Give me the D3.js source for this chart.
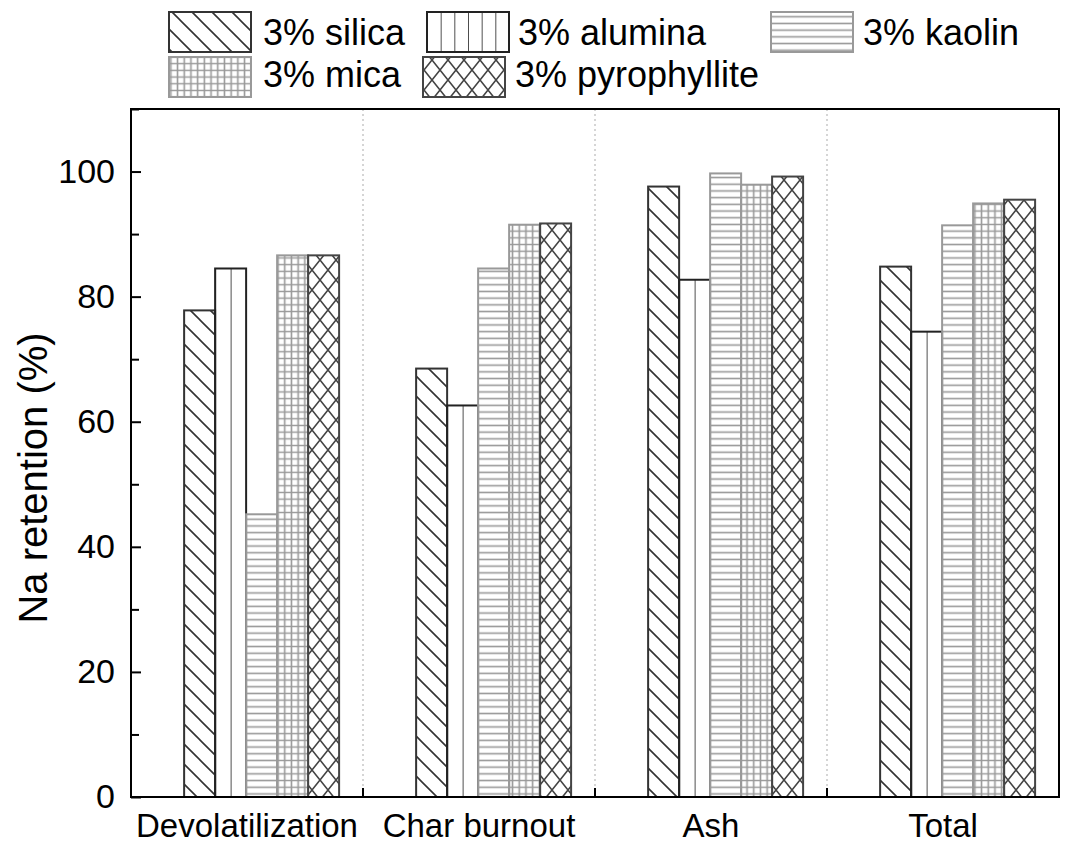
<!DOCTYPE html>
<html>
<head>
<meta charset="utf-8">
<script src="https://cdn.jsdelivr.net/npm/d3@7"></script>
<style>
  html, body { margin: 0; padding: 0; background: #fff; }
  svg { display: block; font-family: Arial, "Liberation Sans", sans-serif; }
</style>
</head>
<body>
<svg id="chart" width="1065" height="854"></svg>
<script>
const categories = ["Devolatilization", "Char burnout", "Ash", "Total"];
const seriesNames = ["3% silica", "3% alumina", "3% kaolin", "3% mica", "3% pyrophyllite"];
const silica = [77.8, 68.5, 97.6, 84.8];
const alumina = [84.5, 62.6, 82.7, 74.4];
const kaolin = [45.2, 84.5, 99.7, 91.4];
const mica = [86.6, 91.5, 97.9, 94.9];
const pyrophyllite = [86.6, 91.7, 99.2, 95.5];
const yTicks = [0, 20, 40, 60, 80, 100];
const yMinorTicks = [10, 30, 50, 70, 90, 110];

const seriesValues = [silica, alumina, kaolin, mica, pyrophyllite];
const seriesKeys = ["silica", "alumina", "kaolin", "mica", "pyro"];
const strokeColors = {silica: "#333", alumina: "#222", kaolin: "#999", mica: "#999", pyro: "#444"};

const svg = d3.select("#chart");
const L = 131, R = 1059, T = 109, B = 797;

const x = d3.scaleBand().domain(categories).range([L, R]).padding(0);
const bw = x.bandwidth();
const xs = d3.scaleBand().domain(seriesKeys).range([bw * 0.229, bw * 0.897]).padding(0);
const y = d3.scaleLinear().domain([0, 110]).range([B, T]);

// patterns
const defs = svg.append("defs");
function pat(id, w, h, d, color, sw) {
  const p = defs.append("pattern").attr("id", id)
    .attr("patternUnits", "userSpaceOnUse")
    .attr("width", w).attr("height", h);
  p.append("path").attr("d", d).attr("stroke", color).attr("stroke-width", sw).attr("fill", "none");
  return p;
}
pat("p-silica", 20, 20, "M0,0 L20,20 M-5,15 L5,25 M15,-5 L25,5", "#333", 1.6);
pat("p-kaolin", 10, 6.7, "M0,3.35 H10", "#999", 1.6);
pat("p-mica", 6.7, 6.7, "M0,3.35 H6.7 M3.35,0 V6.7", "#999", 1.6);
pat("p-pyro", 16, 20, "M0,0 L16,20 M16,0 L0,20 M-8,10 L0,20 M8,-10 L16,0", "#444", 1.6);
// alumina: vertical lines, bar-relative
defs.append("pattern").attr("id", "p-alumina").attr("patternUnits", "objectBoundingBox")
  .attr("x", 0).attr("y", 0).attr("width", 0.5).attr("height", 1)
  .append("path").attr("d", "M0,0 V2000").attr("stroke", "#222").attr("stroke-width", 1.6);
defs.append("pattern").attr("id", "p-alumina-leg").attr("patternUnits", "objectBoundingBox")
  .attr("x", 0).attr("y", 0).attr("width", 1 / 6).attr("height", 1)
  .append("path").attr("d", "M0,0 V200").attr("stroke", "#222").attr("stroke-width", 1.6);

// separators (dotted)
const seps = categories.slice(1).map(c => x(c));
svg.append("g").selectAll("line").data(seps).join("line")
  .attr("x1", d => d).attr("x2", d => d).attr("y1", T).attr("y2", B)
  .attr("stroke", "#c8c8c8").attr("stroke-width", 1.5).attr("stroke-dasharray", "2,3");

// bars
const barData = [];
categories.forEach((c, ci) => {
  seriesKeys.forEach((k, si) => {
    barData.push({cat: c, key: k, value: seriesValues[si][ci]});
  });
});
svg.append("g").selectAll("rect").data(barData).join("rect")
  .attr("x", d => x(d.cat) + xs(d.key))
  .attr("width", xs.bandwidth())
  .attr("y", d => y(d.value))
  .attr("height", d => y(0) - y(d.value))
  .attr("fill", d => `url(#p-${d.key})`)
  .attr("stroke", d => strokeColors[d.key])
  .attr("stroke-width", 2);

// separator ticks at bottom
svg.append("g").selectAll("line").data(seps).join("line")
  .attr("x1", d => d).attr("x2", d => d).attr("y1", B).attr("y2", B - 9)
  .attr("stroke", "#000").attr("stroke-width", 2);

// y axis
const yAxis = d3.axisLeft(y).tickValues(yTicks).tickSize(-10).tickPadding(16).tickFormat(d3.format("d"));
const gy = svg.append("g").attr("transform", `translate(${L},0)`).call(yAxis);
gy.select(".domain").remove();
gy.selectAll(".tick line").attr("stroke", "#000").attr("stroke-width", 2);
gy.selectAll(".tick text").attr("font-size", 34).attr("fill", "#000")
  .attr("font-family", "Arial, 'Liberation Sans', sans-serif");

const yMinor = d3.axisLeft(y).tickValues(yMinorTicks).tickSize(-8).tickFormat("");
const gym = svg.append("g").attr("transform", `translate(${L},0)`).call(yMinor);
gym.select(".domain").remove();
gym.selectAll(".tick line").attr("stroke", "#000").attr("stroke-width", 2);

// x axis labels
const xAxis = d3.axisBottom(x).tickSize(0).tickPadding(17);
const gx = svg.append("g").attr("transform", `translate(0,${B})`).call(xAxis);
gx.select(".domain").remove();
gx.selectAll(".tick text").attr("font-size", 33).attr("fill", "#000")
  .attr("font-family", "Arial, 'Liberation Sans', sans-serif");

// frame
svg.append("rect").attr("x", L).attr("y", T).attr("width", R - L).attr("height", B - T)
  .attr("fill", "none").attr("stroke", "#000").attr("stroke-width", 2);

// y title
svg.append("text").attr("transform", `translate(47,478) rotate(-90)`)
  .attr("text-anchor", "middle").attr("font-size", 40).attr("fill", "#000")
  .text("Na retention (%)");

// legend
const legendPos = [
  {sx: 169, sy: 12, tx: 263, ty: 45},
  {sx: 427, sy: 12, tx: 518, ty: 45},
  {sx: 771, sy: 12, tx: 863, ty: 45},
  {sx: 169, sy: 57, tx: 263, ty: 87},
  {sx: 423, sy: 57, tx: 515, ty: 87}
];
const lg = svg.append("g");
seriesKeys.forEach((k, i) => {
  const p = legendPos[i];
  lg.append("rect").attr("x", p.sx).attr("y", p.sy).attr("width", 82).attr("height", 40)
    .attr("fill", k === "alumina" ? "url(#p-alumina-leg)" : `url(#p-${k})`)
    .attr("stroke", strokeColors[k]).attr("stroke-width", 2);
  lg.append("text").attr("x", p.tx).attr("y", p.ty).attr("font-size", 36).attr("fill", "#000")
    .text(seriesNames[i]);
});
</script>
</body>
</html>
